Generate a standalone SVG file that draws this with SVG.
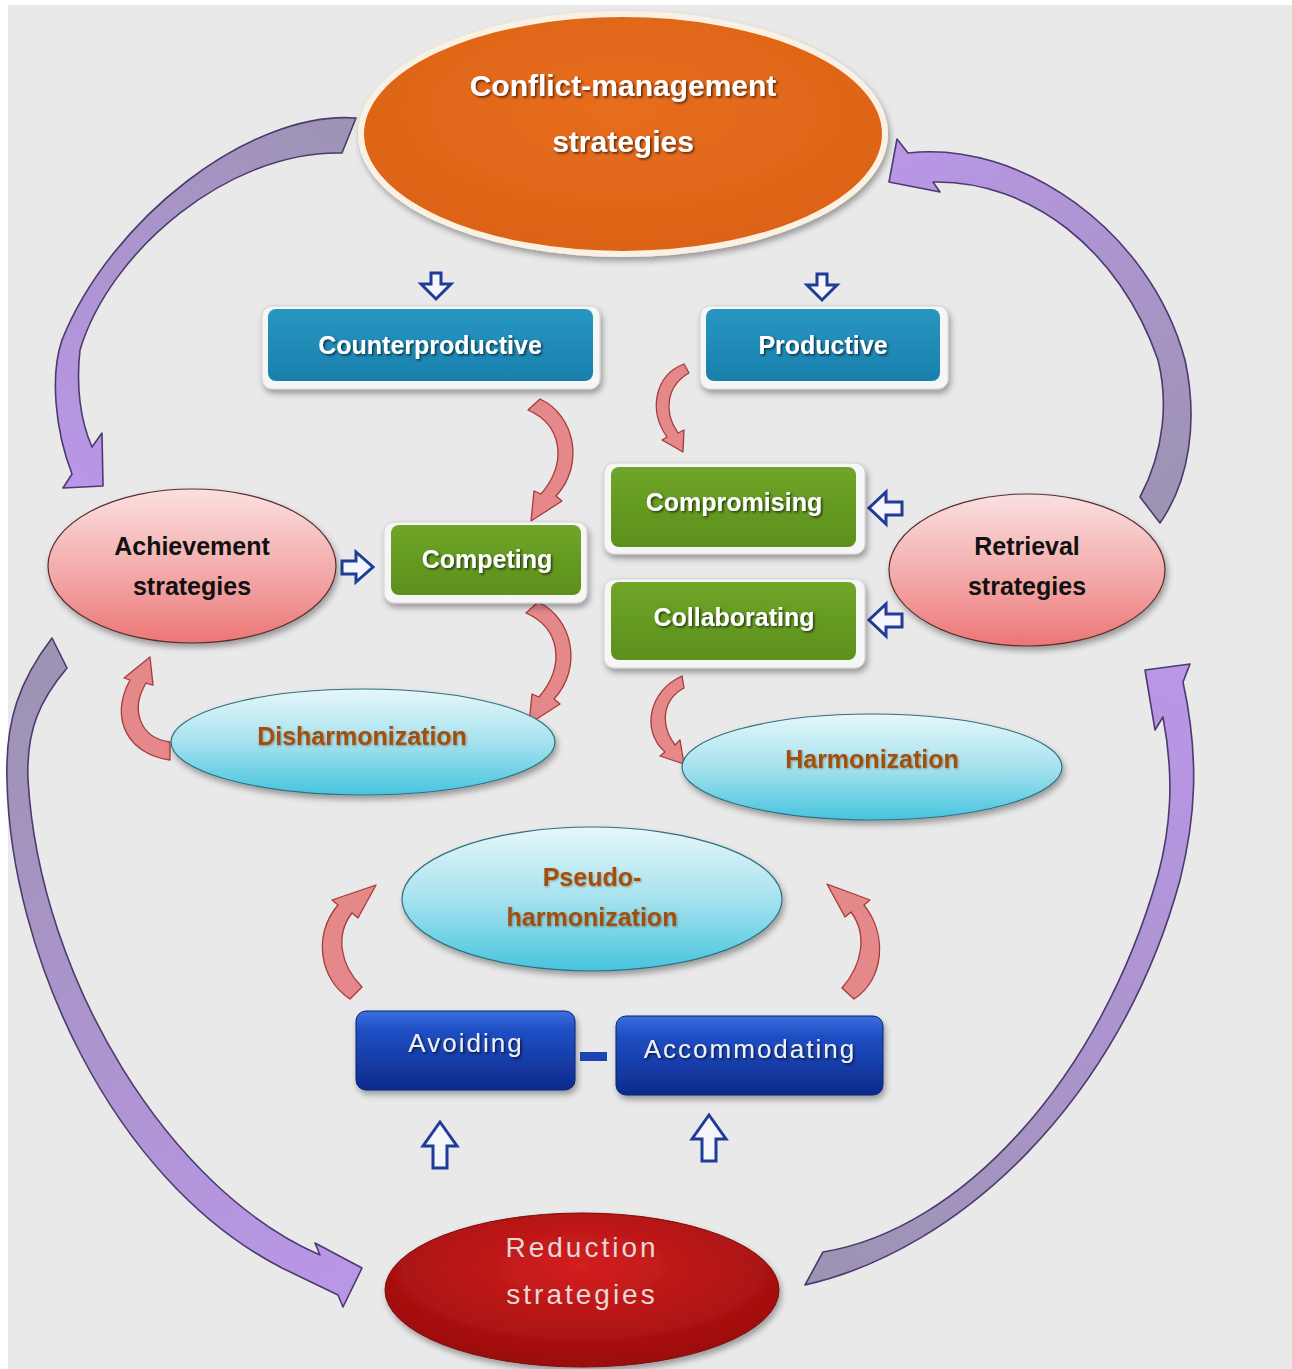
<svg xmlns="http://www.w3.org/2000/svg" width="1292" height="1369" viewBox="0 0 1292 1369">
<defs>
<style>
.lbl{font-family:"Liberation Sans",Arial,sans-serif;text-anchor:middle}
.wb{fill:#ffffff;font-weight:bold;font-size:25px;filter:url(#ts)}
.ttl{font-size:30px}
.blk{fill:#111111;font-weight:bold;font-size:25px}
.brn{fill:#a24f0c;font-weight:bold;font-size:25px;filter:url(#ts2)}
.wreg{fill:#eef0f8;font-size:26px;letter-spacing:2px;filter:url(#ts)}
.frame{fill:#f6f6f6;stroke:#d2d2d2;stroke-width:1;filter:url(#sh)}
.purple{stroke:#4b3b6e;stroke-width:1.6;stroke-linejoin:round}
.pink{fill:#e4888a;stroke:#a63a3c;stroke-width:1.3;stroke-linejoin:round}
.hollow{fill:#f4f6fb;stroke:#1e3c98;stroke-width:3;stroke-linejoin:miter}
</style>
<filter id="sh" x="-10%" y="-20%" width="130%" height="150%"><feDropShadow dx="2" dy="4" stdDeviation="3" flood-color="#000" flood-opacity="0.35"/></filter>
<filter id="ts" x="-10%" y="-30%" width="130%" height="170%"><feDropShadow dx="1.5" dy="1.5" stdDeviation="1" flood-color="#000" flood-opacity="0.65"/></filter>
<filter id="ts2" x="-10%" y="-30%" width="130%" height="170%"><feDropShadow dx="1" dy="1" stdDeviation="0.8" flood-color="#5a2a00" flood-opacity="0.4"/></filter>
<radialGradient id="gOrange" cx="0.5" cy="0.4" r="0.6"><stop offset="0" stop-color="#e86d1f"/><stop offset="1" stop-color="#dc6316"/></radialGradient>
<linearGradient id="gPinkE" x1="0" y1="0" x2="0" y2="1"><stop offset="0" stop-color="#fae0e0"/><stop offset="0.55" stop-color="#f3a9a9"/><stop offset="1" stop-color="#ec7676"/></linearGradient>
<linearGradient id="gCyan" x1="0" y1="0" x2="0" y2="1"><stop offset="0" stop-color="#e6f7fa"/><stop offset="0.5" stop-color="#a6e2ee"/><stop offset="1" stop-color="#46c4de"/></linearGradient>
<linearGradient id="gTeal" x1="0" y1="0" x2="0" y2="1"><stop offset="0" stop-color="#2797c2"/><stop offset="1" stop-color="#197fab"/></linearGradient>
<linearGradient id="gGreen" x1="0" y1="0" x2="0" y2="1"><stop offset="0" stop-color="#6fa528"/><stop offset="1" stop-color="#5c901b"/></linearGradient>
<linearGradient id="gBlue" x1="0" y1="0" x2="0" y2="1"><stop offset="0" stop-color="#3a6ee0"/><stop offset="0.25" stop-color="#1f4fc4"/><stop offset="1" stop-color="#0d2a8c"/></linearGradient>
<radialGradient id="gRed" cx="0.5" cy="0.35" r="0.65"><stop offset="0" stop-color="#d42020"/><stop offset="1" stop-color="#9a0c0c"/></radialGradient>
<linearGradient id="gP1" gradientUnits="userSpaceOnUse" x1="350" y1="130" x2="85" y2="480"><stop offset="0" stop-color="#9d93b3"/><stop offset="1" stop-color="#b996e6"/></linearGradient>
<linearGradient id="gP2" gradientUnits="userSpaceOnUse" x1="1150" y1="510" x2="900" y2="165"><stop offset="0" stop-color="#9d93b3"/><stop offset="1" stop-color="#b996e6"/></linearGradient>
<linearGradient id="gP3" gradientUnits="userSpaceOnUse" x1="60" y1="650" x2="340" y2="1275"><stop offset="0" stop-color="#9d93b3"/><stop offset="1" stop-color="#b996e6"/></linearGradient>
<linearGradient id="gP4" gradientUnits="userSpaceOnUse" x1="815" y1="1270" x2="1165" y2="690"><stop offset="0" stop-color="#9d93b3"/><stop offset="1" stop-color="#b996e6"/></linearGradient>
</defs>

<rect x="0" y="0" width="1292" height="1369" fill="#ffffff"/>
<rect x="8" y="5" width="1284" height="1364" fill="#e9e9e9"/>

<g id="connectors">
  <path class="purple" fill="url(#gP1)" d="M356,118 C250,110 110,220 62,340 C50,375 55,430 72,474 L63,488 L103,486 L102,433 L92,447 C80,420 76,385 80,350 C110,250 230,150 342,153 Z"/>
  <path class="purple" fill="url(#gP2)" d="M889,182 L897,139 L908,153 C1020,140 1150,230 1185,360 C1198,420 1190,480 1160,523 L1140,497 C1165,450 1168,400 1158,360 C1120,250 1030,180 933,182 L940,192 Z"/>
  <path class="purple" fill="url(#gP3)" d="M52,638 C20,680 5,720 7,780 C10,950 110,1180 282,1268 L338,1295 L343,1307 L362,1268 L315,1243 L320,1255 C170,1190 40,980 28,780 C26,730 40,700 67,668 Z"/>
  <path class="purple" fill="url(#gP4)" d="M805,1285 C960,1250 1120,1100 1180,880 C1195,820 1200,760 1183,682 L1190,664 L1145,670 L1155,730 L1163,717 C1175,780 1170,830 1158,875 C1100,1080 960,1230 823,1252 Z"/>

  <path class="pink" d="M684,364 C655,375 648,410 667,437 L662,440 L683,452 L684,430 L678,433 C662,410 668,385 689,373 Z"/>
  <path class="pink" d="M540,399 C575,415 585,465 556,496 L562,501 L531,521 L534,491 L541,494 C568,462 562,425 528,410 Z"/>
  <path class="pink" d="M538,602 C573,618 583,668 554,699 L560,704 L529,724 L532,694 L539,697 C566,665 560,628 526,613 Z"/>
  <path class="pink" d="M170,760 C130,755 108,720 130,680 L124,678 L150,657 L153,685 L146,683 C130,710 140,738 170,742 Z"/>
  <path class="pink" d="M682,676 C650,690 640,730 665,752 L660,756 L684,764 L680,740 L675,745 C660,725 662,700 684,688 Z"/>
  <path class="pink" d="M350,999 C320,980 312,935 338,905 L332,900 L376,885 L358,918 L352,913 C335,935 340,965 362,987 Z"/>
  <path class="pink" d="M854,999 C884,980 888,935 864,905 L870,900 L827,884 L845,917 L851,912 C868,935 862,965 842,988 Z"/>

  <polygon class="hollow" points="431,273 441,273 441,284 451,284 436,299 421,284 431,284"/>
  <polygon class="hollow" points="817,274 827,274 827,285 837,285 822,300 807,285 817,285"/>
  <polygon class="hollow" points="342,561 356,561 356,552 373,567 356,582 356,574 342,574"/>
  <polygon class="hollow" points="902,502 886,502 886,492 869,508 886,524 886,515 902,515"/>
  <polygon class="hollow" points="902,614 886,614 886,604 869,620 886,636 886,627 902,627"/>
  <polygon class="hollow" points="440,1122 457,1146 447,1146 447,1168 433,1168 433,1146 423,1146"/>
  <polygon class="hollow" points="709,1115 726,1139 716,1139 716,1161 702,1161 702,1139 692,1139"/>

  <rect x="580" y="1052" width="27" height="9" fill="#1b45b5"/>
</g>

<g id="node-conflict">
  <ellipse cx="623" cy="134" rx="262" ry="120" fill="url(#gOrange)" stroke="#fbf1e3" stroke-width="6" filter="url(#sh)"/>
  <text class="lbl wb ttl" x="623" y="96">Conflict-management</text>
  <text class="lbl wb ttl" x="623" y="152">strategies</text>
</g>

<g id="node-counterproductive">
  <rect class="frame" x="262" y="306" width="338" height="83" rx="10"/>
  <rect x="268" y="309" width="325" height="72" rx="8" fill="url(#gTeal)"/>
  <text class="lbl wb" x="430" y="354">Counterproductive</text>
</g>

<g id="node-productive">
  <rect class="frame" x="700" y="306" width="248" height="83" rx="10"/>
  <rect x="706" y="309" width="234" height="72" rx="8" fill="url(#gTeal)"/>
  <text class="lbl wb" x="823" y="354">Productive</text>
</g>

<g id="node-compromising">
  <rect class="frame" x="604" y="463" width="261" height="91" rx="10"/>
  <rect x="611" y="467" width="245" height="80" rx="8" fill="url(#gGreen)"/>
  <text class="lbl wb" x="734" y="511">Compromising</text>
</g>

<g id="node-collaborating">
  <rect class="frame" x="604" y="579" width="261" height="89" rx="10"/>
  <rect x="611" y="582" width="245" height="78" rx="8" fill="url(#gGreen)"/>
  <text class="lbl wb" x="734" y="626">Collaborating</text>
</g>

<g id="node-competing">
  <rect class="frame" x="384" y="522" width="203" height="81" rx="10"/>
  <rect x="391" y="525" width="190" height="70" rx="8" fill="url(#gGreen)"/>
  <text class="lbl wb" x="487" y="568">Competing</text>
</g>

<g id="node-achievement">
  <ellipse cx="192" cy="566" rx="144" ry="77" fill="url(#gPinkE)" stroke="#5a2c2c" stroke-width="1.2" filter="url(#sh)"/>
  <text class="lbl blk" x="192" y="555">Achievement</text>
  <text class="lbl blk" x="192" y="595">strategies</text>
</g>

<g id="node-retrieval">
  <ellipse cx="1027" cy="570" rx="138" ry="76" fill="url(#gPinkE)" stroke="#5a2c2c" stroke-width="1.2" filter="url(#sh)"/>
  <text class="lbl blk" x="1027" y="555">Retrieval</text>
  <text class="lbl blk" x="1027" y="595">strategies</text>
</g>

<g id="node-disharmonization">
  <ellipse cx="363" cy="742" rx="192" ry="53" fill="url(#gCyan)" stroke="#2f6f80" stroke-width="1.2" filter="url(#sh)"/>
  <text class="lbl brn" x="362" y="745">Disharmonization</text>
</g>

<g id="node-harmonization">
  <ellipse cx="872" cy="767" rx="190" ry="53" fill="url(#gCyan)" stroke="#2f6f80" stroke-width="1.2" filter="url(#sh)"/>
  <text class="lbl brn" x="872" y="768">Harmonization</text>
</g>

<g id="node-pseudo">
  <ellipse cx="592" cy="899" rx="190" ry="72" fill="url(#gCyan)" stroke="#2f6f80" stroke-width="1.2" filter="url(#sh)"/>
  <text class="lbl brn" x="592" y="886">Pseudo-</text>
  <text class="lbl brn" x="592" y="926">harmonization</text>
</g>

<g id="node-avoiding">
  <rect x="356" y="1011" width="219" height="79" rx="10" fill="url(#gBlue)" stroke="#0b2370" stroke-width="1" filter="url(#sh)"/>
  <text class="lbl wreg" x="466" y="1052">Avoiding</text>
</g>

<g id="node-accommodating">
  <rect x="616" y="1016" width="267" height="79" rx="10" fill="url(#gBlue)" stroke="#0b2370" stroke-width="1" filter="url(#sh)"/>
  <text class="lbl wreg" x="750" y="1058">Accommodating</text>
</g>

<g id="node-reduction">
  <ellipse cx="582" cy="1290" rx="197" ry="77" fill="url(#gRed)" stroke="#7a0808" stroke-width="1" filter="url(#sh)"/>
  <text class="lbl" x="582" y="1257" font-size="28" letter-spacing="3" fill="#ead6d6">Reduction</text>
  <text class="lbl" x="582" y="1304" font-size="28" letter-spacing="3" fill="#ead6d6">strategies</text>
</g>
</svg>
